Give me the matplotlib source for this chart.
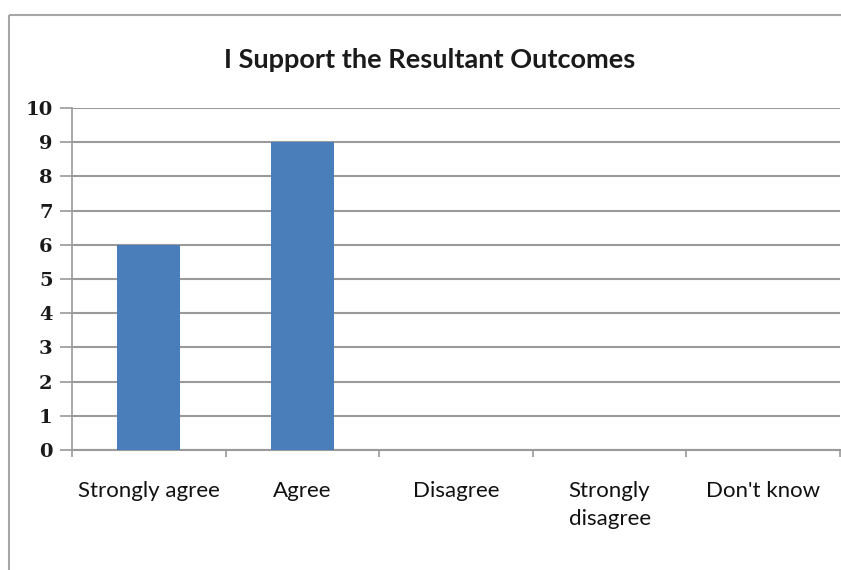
import matplotlib
matplotlib.use("Agg")
import matplotlib.pyplot as plt
from matplotlib.lines import Line2D

categories = ["Strongly agree", "Agree", "Disagree", "Strongly\ndisagree", "Don't know"]
values = [6, 9, 0, 0, 0]
yticks = list(range(0, 11))
title = "I Support the Resultant Outcomes"

fig = plt.figure(figsize=(8.41, 5.70), dpi=100)
bx, by = 9/841, 1 - 15/570
fig.lines.append(Line2D([bx, 1.0], [by, by], transform=fig.transFigure, color="#a6a6a6",
                        linewidth=1.5, solid_capstyle="butt"))
fig.lines.append(Line2D([bx, bx], [0.0, by], transform=fig.transFigure, color="#a6a6a6",
                        linewidth=1.5, solid_capstyle="butt"))
ax = fig.add_axes([72/841, 1 - 450/570, 768/841, 342/570])

x = list(range(len(categories)))
ax.bar(x, values, width=0.41, color="#4a7ebb", zorder=3)
ax.set_xlim(-0.5, len(categories) - 0.5)
ax.set_ylim(0, 10)
ax.set_yticks(yticks)
ax.set_yticklabels([str(t) for t in yticks], family="DejaVu Serif", fontweight="bold",
                   fontsize=14, color="#1a1a1a")
ax.yaxis.grid(True, color="#9a9a9a", linewidth=1.5, zorder=0)
ax.tick_params(axis="y", length=9, color="#9a9a9a", width=1.2, pad=5)

ax.set_xticks([i - 0.5 for i in range(len(categories) + 1)], minor=False)
ax.set_xticklabels([])
ax.tick_params(axis="x", which="major", length=5, color="#9a9a9a", width=1.2)
ax.set_xticks(x, minor=True)
ax.set_xticklabels(categories, minor=True, family="Lato", fontsize=16, ha="center", va="top",
                   color="#111111")
ax.tick_params(axis="x", which="minor", length=0, pad=22)
for lbl in ax.get_xticklabels(minor=True):
    if "\n" in lbl.get_text():
        lbl.set_multialignment("left")
        lbl.set_linespacing(1.55)

for s in ["top", "right"]:
    ax.spines[s].set_visible(False)
ax.spines["left"].set_color("#9a9a9a")
ax.spines["bottom"].set_color("#9a9a9a")
ax.spines["left"].set_linewidth(1.2)
ax.spines["bottom"].set_linewidth(1.5)

fig.text(430/841, 1 - 60/570, title, ha="center", va="center", family="Lato",
         fontweight="bold", fontsize=19.5, color="#1a1a1a")

fig.savefig("out.png", dpi=100)
